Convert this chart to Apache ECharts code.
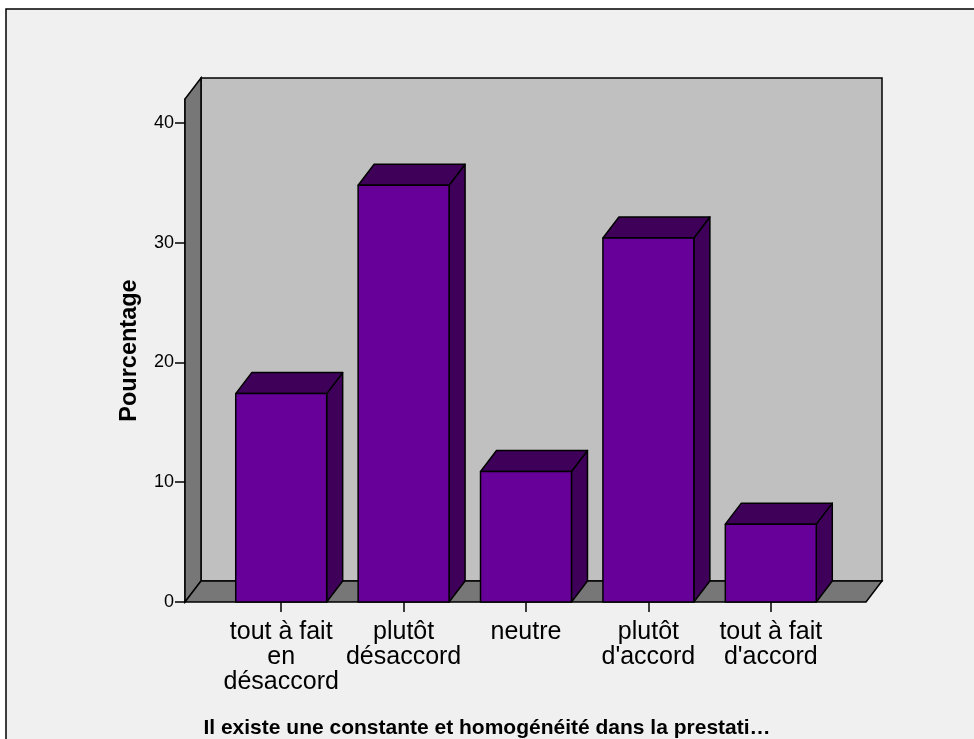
<!DOCTYPE html>
<html>
<head>
<meta charset="utf-8">
<script src="https://cdn.jsdelivr.net/npm/echarts@6/dist/echarts.min.js"></script>
<style>
html,body{margin:0;padding:0;background:#ffffff;}
#chart{width:974px;height:739px;}
</style>
</head>
<body>
<div id="chart"></div>
<script>
const categories = ['tout à fait\nen\ndésaccord', 'plutôt\ndésaccord', 'neutre', "plutôt\nd'accord", "tout à fait\nd'accord"];
const percentages = [17.4, 34.8, 10.9, 30.4, 6.5];
const yTicks = [0, 10, 20, 30, 40];
const yMax = 42;
const xTitle = 'Il existe une constante et homogénéité dans la prestati…';
const yTitle = 'Pourcentage';

const FONT = "'Liberation Sans', Arial, sans-serif";
const DX = 16, DY = 21;
const FRONT = '#660099', DARK = '#3f005a';

const chart = echarts.init(document.getElementById('chart'), null, {renderer: 'canvas'});

function boxRender(params, api) {
  const cs = params.coordSys;
  const x0 = cs.x - 35, x1 = cs.x + cs.width + 34;
  const yb = api.coord([0, 0])[1];
  const yt = api.coord([0, yMax])[1];
  const st = {stroke: '#000', lineWidth: 1.5};
  return {
    type: 'group',
    children: [
      {type: 'rect', shape: {x: x0 + DX, y: yt - DY, width: x1 - x0, height: yb - yt}, style: Object.assign({fill: '#c0c0c0'}, st)},
      {type: 'polygon', shape: {points: [[x0, yt], [x0 + DX, yt - DY], [x0 + DX, yb - DY], [x0, yb]]}, style: Object.assign({fill: '#777777'}, st)},
      {type: 'polygon', shape: {points: [[x0, yb], [x0 + DX, yb - DY], [x1 + DX, yb - DY], [x1, yb]]}, style: Object.assign({fill: '#777777'}, st)}
    ]
  };
}

function barRender(params, api) {
  const idx = api.value(0), v = api.value(1);
  const top = api.coord([idx, v]);
  const base = api.coord([idx, 0]);
  const bw = api.size([1, 0])[0] * 0.743;
  const xl = top[0] - bw / 2, xr = xl + bw;
  const st = {stroke: '#000', lineWidth: 1.5, lineJoin: 'round'};
  return {
    type: 'group',
    children: [
      {type: 'polygon', shape: {points: [[xr, top[1]], [xr + DX, top[1] - DY], [xr + DX, base[1] - DY], [xr, base[1]]]}, style: Object.assign({fill: DARK}, st)},
      {type: 'polygon', shape: {points: [[xl, top[1]], [xl + DX, top[1] - DY], [xr + DX, top[1] - DY], [xr, top[1]]]}, style: Object.assign({fill: DARK}, st)},
      {type: 'rect', shape: {x: xl, y: top[1], width: bw, height: base[1] - top[1]}, style: Object.assign({fill: FRONT}, st)}
    ]
  };
}

chart.setOption({
  backgroundColor: '#ffffff',
  animation: false,
  textStyle: {fontFamily: FONT},
  graphic: [{
    type: 'rect', z: -10, silent: true,
    shape: {x: 6, y: 9, width: 1100, height: 900},
    style: {fill: '#f0f0f0', stroke: '#000', lineWidth: 1.5}
  }],
  title: {
    text: xTitle, left: 'center', top: 713,
    textStyle: {fontFamily: FONT, fontSize: 21, fontWeight: 'bold', color: '#000'}
  },
  grid: {left: 220, right: 142, top: 99, bottom: 137, containLabel: false, outerBoundsMode: 'none'},
  xAxis: {
    type: 'category', data: categories,
    axisLine: {show: false},
    axisTick: {show: true, alignWithLabel: true, length: 10, lineStyle: {color: '#000', width: 1.5}},
    axisLabel: {interval: 0, fontFamily: FONT, fontSize: 25, lineHeight: 25, color: '#000', margin: 18},
    splitLine: {show: false}
  },
  yAxis: {
    type: 'value', min: 0, max: yMax, interval: 10, offset: 35,
    name: yTitle, nameLocation: 'middle', nameGap: 43, nameRotate: 90,
    nameTextStyle: {fontFamily: FONT, fontSize: 23.5, fontWeight: 'bold', color: '#000'},
    axisLine: {show: true, lineStyle: {color: '#000', width: 1.5}},
    axisTick: {show: true, length: 10, lineStyle: {color: '#000', width: 1.5}, customValues: yTicks},
    axisLabel: {fontFamily: FONT, fontSize: 18, color: '#000', margin: 11, padding: [6, 0, 0, 0], customValues: yTicks},
    splitLine: {show: false}
  },
  series: [
    {type: 'custom', renderItem: boxRender, data: [[0, 0]], z: 1, silent: true},
    {type: 'custom', renderItem: barRender, data: percentages.map((v, i) => [i, v]), encode: {x: 0, y: 1}, z: 2}
  ]
});
</script>
</body>
</html>
